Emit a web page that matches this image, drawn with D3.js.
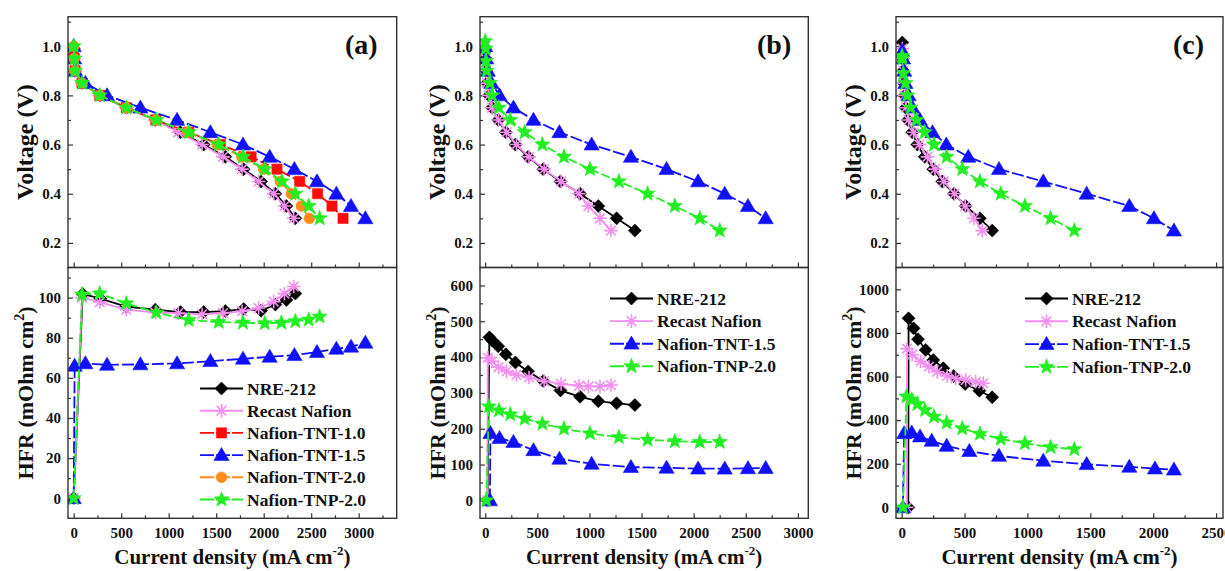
<!DOCTYPE html>
<html>
<head>
<meta charset="utf-8">
<script src="https://cdn.jsdelivr.net/npm/d3@7/dist/d3.min.js"></script>
<style>
  html, body { margin: 0; padding: 0; background: #fff; }
  svg { display: block; }
</style>
</head>
<body>
<svg id="chart" width="1225" height="571"></svg>
<script>
// ---------------- data ----------------
const seriesNames = ["NRE-212", "Recast Nafion", "Nafion-TNT-1.0", "Nafion-TNT-1.5", "Nafion-TNT-2.0", "Nafion-TNP-2.0"];
const panelLabels = ["(a)", "(b)", "(c)"];
const voltageTicks = [0.2, 0.4, 0.6, 0.8, 1.0];
const voltageMinor = [0.3, 0.5, 0.7, 0.9, 1.1];
const currentTicksAB = [0, 500, 1000, 1500, 2000, 2500, 3000];
const currentTicksC = [0, 500, 1000, 1500, 2000, 2500];
const hfrTicksA = [0, 20, 40, 60, 80, 100];
const hfrTicksB = [0, 100, 200, 300, 400, 500, 600];
const hfrTicksC = [0, 200, 400, 600, 800, 1000];

// Panel (a) polarization: [current density mA/cm2, voltage V]
const polA_NRE212 = [[0,0.99],[5,0.95],[15,0.9],[90,0.85],[274,0.8],[554,0.75],[860,0.7],[1123,0.65],[1368,0.6],[1596,0.55],[1789,0.5],[1972,0.45],[2123,0.4],[2239,0.35],[2333,0.3]];
const polA_Recast = [[0,0.99],[5,0.95],[15,0.9],[88,0.85],[274,0.8],[554,0.75],[855,0.7],[1100,0.65],[1351,0.6],[1572,0.55],[1772,0.5],[1947,0.45],[2105,0.4],[2218,0.35],[2316,0.3]];
const polA_TNT10 = [[0,0.975],[5,0.95],[15,0.9],[88,0.85],[274,0.8],[554,0.75],[865,0.7],[1211,0.65],[1544,0.6],[1867,0.55],[2140,0.5],[2379,0.45],[2568,0.4],[2719,0.35],[2835,0.3]];
const polA_TNT15 = [[0,1.0],[5,0.95],[18,0.9],[123,0.85],[351,0.8],[702,0.75],[1088,0.7],[1439,0.65],[1782,0.6],[2063,0.55],[2323,0.5],[2561,0.45],[2765,0.4],[2919,0.35],[3070,0.3]];
const polA_TNT20 = [[0,1.0],[5,0.95],[15,0.9],[88,0.85],[274,0.8],[554,0.75],[865,0.7],[1200,0.65],[1510,0.6],[1770,0.55],[2000,0.5],[2175,0.45],[2291,0.4],[2396,0.35],[2481,0.3]];
const polA_TNP20 = [[0,1.0],[7,0.95],[14,0.9],[88,0.85],[274,0.8],[554,0.75],[870,0.7],[1211,0.65],[1526,0.6],[1782,0.55],[2011,0.5],[2193,0.45],[2333,0.4],[2474,0.35],[2589,0.3]];

// Panel (a) high-frequency resistance: [current density, HFR mOhm cm2]
const hfrA_NRE212 = [[0,0],[95,101.8],[280,99.5],[554,95.5],[860,94],[1123,92.8],[1368,92.8],[1596,93.3],[1789,94.3],[1972,93.5],[2123,96.5],[2239,98.8],[2333,102]];
const hfrA_Recast = [[0,0],[88,100],[274,97.8],[554,94],[860,92.5],[1100,92.2],[1351,91.7],[1572,92.3],[1772,93.2],[1947,94.8],[2105,98],[2218,102],[2316,105.5]];
const hfrA_TNT15 = [[0,0],[10,66],[123,67.2],[351,66.5],[702,66.7],[1088,67.2],[1439,68.3],[1782,69.5],[2063,70.5],[2323,71.3],[2561,72.8],[2765,74.5],[2919,75.5],[3070,77.5]];
const hfrA_TNP20 = [[0,0],[88,101.5],[274,102],[554,97.1],[870,92.5],[1211,88.8],[1526,87.8],[1782,87.5],[2011,87.2],[2186,87.5],[2333,88.2],[2474,89],[2589,90.5]];

// Panel (b) polarization
const polB_NRE212 = [[0,0.98],[4,0.95],[10,0.9],[18,0.85],[35,0.8],[65,0.75],[125,0.7],[198,0.65],[290,0.6],[412,0.55],[557,0.5],[722,0.45],[910,0.4],[1085,0.35],[1261,0.3],[1436,0.25]];
const polB_Recast = [[0,1.0],[4,0.95],[10,0.9],[18,0.85],[35,0.8],[65,0.75],[128,0.7],[205,0.65],[300,0.6],[420,0.55],[565,0.5],[728,0.45],[900,0.4],[990,0.35],[1101,0.3],[1206,0.25]];
const polB_TNT15 = [[0,1.0],[10,0.95],[25,0.9],[60,0.85],[137,0.8],[271,0.75],[463,0.7],[712,0.65],[1021,0.6],[1398,0.55],[1740,0.5],[2043,0.45],[2298,0.4],[2521,0.35],[2691,0.3]];
const polB_TNP20 = [[0,1.02],[3,0.99],[8,0.94],[14,0.9],[45,0.85],[67,0.8],[131,0.75],[240,0.7],[378,0.65],[549,0.6],[756,0.55],[1005,0.5],[1283,0.45],[1558,0.4],[1819,0.35],[2059,0.3],[2250,0.25]];

// Panel (b) HFR
const hfrB_NRE212 = [[22,0],[40,455],[65,447],[125,430],[198,408],[290,385],[412,360],[557,333],[722,307],[910,289],[1085,277],[1261,271],[1436,266]];
const hfrB_Recast = [[20,0],[25,398],[65,388],[128,372],[205,360],[300,350],[420,343],[565,333],[728,325],[900,320],[990,318],[1101,318],[1206,322]];
const hfrB_TNT15 = [[45,0],[50,188],[137,174],[271,163],[463,140],[712,116],[1021,102],[1398,93],[1740,91],[2043,88.5],[2298,88.5],[2521,89.5],[2691,90]];
const hfrB_TNP20 = [[10,0],[35,262],[131,251],[240,240],[378,228],[549,214],[756,200],[1005,187],[1283,176],[1558,169],[1819,165],[2059,163],[2250,163]];

// Panel (c) polarization
const polC_NRE212 = [[5,1.015],[8,0.95],[12,0.9],[17,0.85],[24,0.8],[32,0.75],[50,0.7],[84,0.65],[124,0.6],[183,0.55],[251,0.5],[323,0.45],[416,0.4],[509,0.35],[622,0.3],[720,0.25]];
const polC_Recast = [[5,0.99],[8,0.95],[12,0.9],[17,0.85],[25,0.8],[35,0.75],[55,0.7],[95,0.65],[140,0.6],[205,0.55],[265,0.5],[335,0.45],[420,0.4],[505,0.35],[575,0.3],[641,0.25]];
const polC_TNT15 = [[5,0.98],[12,0.95],[20,0.9],[30,0.85],[55,0.8],[85,0.75],[145,0.7],[245,0.65],[355,0.6],[530,0.55],[774,0.5],[1126,0.45],[1471,0.4],[1810,0.35],[2006,0.3],[2165,0.25]];
const polC_TNP20 = [[3,0.96],[5,0.95],[13,0.89],[30,0.85],[45,0.8],[71,0.75],[119,0.7],[183,0.65],[257,0.6],[358,0.55],[482,0.5],[622,0.45],[788,0.4],[980,0.35],[1184,0.3],[1373,0.25]];

// Panel (c) HFR
const hfrC_NRE212 = [[53,0],[55,867],[95,821],[130,771],[191,722],[251,676],[331,638],[413,602],[505,566],[618,535],[720,505]];
const hfrC_Recast = [[40,0],[43,728],[84,700],[151,670],[217,645],[283,622],[362,603],[429,592],[509,584],[588,576],[649,569]];
const hfrC_TNT15 = [[10,0],[20,340],[80,343],[146,325],[239,305],[358,282],[538,258],[774,236],[1126,214],[1471,198],[1810,186],[2014,178],[2165,173]];
const hfrC_TNP20 = [[10,0],[38,508],[80,494],[125,474],[185,446],[257,416],[358,388],[482,362],[622,337],[788,314],[980,294],[1184,276],[1373,267]];

// ---------------- styles ----------------
const FONT = '"Liberation Serif","Times New Roman",serif';
const frameColor = "#333";
const styles = {
  "NRE-212":        { color: "#000000", marker: "diamond",  dash: null },
  "Recast Nafion":  { color: "#f48ef0", marker: "asterisk", dash: null },
  "Nafion-TNT-1.0": { color: "#ff0a0a", marker: "square",   dash: "9,3" },
  "Nafion-TNT-1.5": { color: "#1010ff", marker: "triangle", dash: "12,3" },
  "Nafion-TNT-2.0": { color: "#ff8c1a", marker: "circle",   dash: "9,3" },
  "Nafion-TNP-2.0": { color: "#22ee22", marker: "star",     dash: "9,3" }
};

function markerPath(type) {
  switch (type) {
    case "diamond": { const r = 6.5; return `M0,${-r}L${r},0L0,${r}L${-r},0Z`; }
    case "square": { const r = 5.1; return `M${-r},${-r}H${r}V${r}H${-r}Z`; }
    case "triangle": return "M0,-7.6L7.6,5.4L-7.6,5.4Z";
    case "circle": { const r = 5.4; return `M${r},0A${r},${r} 0 1,1 ${-r},0A${r},${r} 0 1,1 ${r},0Z`; }
    case "star": {
      const R = 8.0, r = 3.4; let p = "";
      for (let i = 0; i < 10; i++) {
        const rad = i % 2 === 0 ? R : r;
        const a = -Math.PI / 2 + i * Math.PI / 5;
        p += (i === 0 ? "M" : "L") + (rad * Math.cos(a)).toFixed(2) + "," + (rad * Math.sin(a)).toFixed(2);
      }
      return p + "Z";
    }
    case "asterisk": {
      const r = 6.8, a = r * 0.707;
      return `M${-r},0L${r},0M0,${-r}L0,${r}M${-a},${-a}L${a},${a}M${-a},${a}L${a},${-a}`;
    }
  }
}

function drawMarkers(g, pts, style) {
  const isStroke = style.marker === "asterisk";
  g.selectAll(null).data(pts).join("path")
    .attr("d", markerPath(style.marker))
    .attr("transform", d => `translate(${d[0]},${d[1]})`)
    .attr("fill", isStroke ? "none" : style.color)
    .attr("stroke", style.color)
    .attr("stroke-width", isStroke ? 1.6 : 0.6);
}

// ---------------- layout ----------------
const yTop = 16.7, yMid = 267.5, yBottom = 518.3;
const voltageDomain = [0.1, 1.12];

const panels = [
  {
    label: panelLabels[0], left: 68, right: 396.7, xDomain: [-60, 3400], xTicks: currentTicksAB,
    hfrDomain: [-10, 115], hfrTicks: hfrTicksA, hfrStep: 10,
    legend: { x: 200, y: 388.5, step: 22.2 },
    pol: [["NRE-212", polA_NRE212], ["Recast Nafion", polA_Recast], ["Nafion-TNT-1.0", polA_TNT10], ["Nafion-TNT-1.5", polA_TNT15], ["Nafion-TNT-2.0", polA_TNT20], ["Nafion-TNP-2.0", polA_TNP20]],
    hfr: [["NRE-212", hfrA_NRE212], ["Recast Nafion", hfrA_Recast], ["Nafion-TNT-1.5", hfrA_TNT15], ["Nafion-TNP-2.0", hfrA_TNP20]],
    legendNames: seriesNames
  },
  {
    label: panelLabels[1], left: 480, right: 808.3, xDomain: [-50, 3100], xTicks: currentTicksAB,
    hfrDomain: [-50, 650], hfrTicks: hfrTicksB, hfrStep: 50,
    legend: { x: 610, y: 298.5, step: 22.6 },
    pol: [["NRE-212", polB_NRE212], ["Recast Nafion", polB_Recast], ["Nafion-TNT-1.5", polB_TNT15], ["Nafion-TNP-2.0", polB_TNP20]],
    hfr: [["NRE-212", hfrB_NRE212], ["Recast Nafion", hfrB_Recast], ["Nafion-TNT-1.5", hfrB_TNT15], ["Nafion-TNP-2.0", hfrB_TNP20]],
    legendNames: [seriesNames[0], seriesNames[1], seriesNames[3], seriesNames[5]]
  },
  {
    label: panelLabels[2], left: 896, right: 1223, xDomain: [-45, 2555], xTicks: currentTicksC,
    hfrDomain: [-50, 1100], hfrTicks: hfrTicksC, hfrStep: 100,
    legend: { x: 1025, y: 298.5, step: 22.8 },
    pol: [["NRE-212", polC_NRE212], ["Recast Nafion", polC_Recast], ["Nafion-TNT-1.5", polC_TNT15], ["Nafion-TNP-2.0", polC_TNP20]],
    hfr: [["NRE-212", hfrC_NRE212], ["Recast Nafion", hfrC_Recast], ["Nafion-TNT-1.5", hfrC_TNT15], ["Nafion-TNP-2.0", hfrC_TNP20]],
    legendNames: [seriesNames[0], seriesNames[1], seriesNames[3], seriesNames[5]]
  }
];

const svg = d3.select("#chart");
svg.append("rect").attr("width", 1225).attr("height", 571).attr("fill", "#fff");

function styleAxis(a, fontSize) {
  a.select(".domain").remove();
  a.attr("font-family", FONT).attr("font-size", fontSize).attr("font-weight", "bold");
  a.selectAll(".tick line").attr("stroke", frameColor).attr("stroke-width", 1.2);
  a.selectAll(".tick text").attr("fill", "#111");
}

function minorValues(domain, step, majors) {
  const out = [];
  const lo = Math.ceil((domain[0] + step * 0.3) / step) * step;
  for (let v = lo; v < domain[1] - step * 0.3; v += step) {
    const vv = +v.toFixed(6);
    if (!majors.some(m => Math.abs(m - vv) < 1e-6)) out.push(vv);
  }
  return out;
}

panels.forEach(p => {
  const g = svg.append("g");
  const x = d3.scaleLinear().domain(p.xDomain).range([p.left, p.right]);
  const yV = d3.scaleLinear().domain(voltageDomain).range([yMid, yTop]);
  const yH = d3.scaleLinear().domain(p.hfrDomain).range([yBottom, yMid]);
  const xMinor = minorValues(p.xDomain, 250, p.xTicks);

  // ---- upper panel: polarization ----
  const upLeft = g.append("g").attr("transform", `translate(${p.left},0)`)
    .call(d3.axisLeft(yV).tickValues(voltageTicks).tickSize(-5).tickPadding(7).tickFormat(d3.format(".1f")));
  styleAxis(upLeft, 15);
  const upLeftMinor = g.append("g").attr("transform", `translate(${p.left},0)`)
    .call(d3.axisLeft(yV).tickValues(voltageMinor).tickSize(-3).tickFormat(""));
  styleAxis(upLeftMinor, 15);
  const upBottom = g.append("g").attr("transform", `translate(0,${yMid})`)
    .call(d3.axisBottom(x).tickValues(p.xTicks).tickSize(-5).tickFormat(""));
  styleAxis(upBottom, 15);
  const upBottomMinor = g.append("g").attr("transform", `translate(0,${yMid})`)
    .call(d3.axisBottom(x).tickValues(xMinor).tickSize(-3).tickFormat(""));
  styleAxis(upBottomMinor, 15);

  // ---- lower panel: HFR ----
  const loLeft = g.append("g").attr("transform", `translate(${p.left},0)`)
    .call(d3.axisLeft(yH).tickValues(p.hfrTicks).tickSize(-5).tickPadding(7).tickFormat(d3.format("d")));
  styleAxis(loLeft, 15);
  const loLeftMinor = g.append("g").attr("transform", `translate(${p.left},0)`)
    .call(d3.axisLeft(yH).tickValues(minorValues(p.hfrDomain, p.hfrStep, p.hfrTicks)).tickSize(-3).tickFormat(""));
  styleAxis(loLeftMinor, 15);
  const loBottom = g.append("g").attr("transform", `translate(0,${yBottom})`)
    .call(d3.axisBottom(x).tickValues(p.xTicks).tickSize(-5).tickPadding(9).tickFormat(d3.format("d")));
  styleAxis(loBottom, 15);
  const loBottomMinor = g.append("g").attr("transform", `translate(0,${yBottom})`)
    .call(d3.axisBottom(x).tickValues(xMinor).tickSize(-3).tickFormat(""));
  styleAxis(loBottomMinor, 15);

  // ---- curves ----
  const clipId = "clip-" + p.label.replace(/\W/g, "");
  svg.append("clipPath").attr("id", clipId).append("rect")
    .attr("x", p.left).attr("y", yTop).attr("width", p.right - p.left).attr("height", yBottom - yTop);
  const plot = g.append("g").attr("clip-path", `url(#${clipId})`);

  function drawSeries(list, yScale) {
    list.forEach(([name, data]) => {
      const st = styles[name];
      const pts = data.map(d => [x(d[0]), yScale(d[1])]);
      plot.append("path")
        .attr("d", d3.line()(pts))
        .attr("fill", "none")
        .attr("stroke", st.color)
        .attr("stroke-width", 1.8)
        .attr("stroke-dasharray", st.dash);
      drawMarkers(plot.append("g"), pts, st);
    });
  }
  drawSeries(p.pol, yV);
  drawSeries(p.hfr, yH);

  // ---- frames ----
  g.append("rect").attr("x", p.left).attr("y", yTop).attr("width", p.right - p.left).attr("height", yMid - yTop)
    .attr("fill", "none").attr("stroke", frameColor).attr("stroke-width", 1.4);
  g.append("rect").attr("x", p.left).attr("y", yMid).attr("width", p.right - p.left).attr("height", yBottom - yMid)
    .attr("fill", "none").attr("stroke", frameColor).attr("stroke-width", 1.4);

  // ---- panel label ----
  g.append("text").attr("x", p.left + 277).attr("y", 54)
    .attr("font-family", FONT).attr("font-weight", "bold").attr("font-size", 28).attr("fill", "#111")
    .text(p.label);

  // ---- axis titles ----
  const cx = p.left - 43;
  g.append("text")
    .attr("transform", `translate(${cx},${(yTop + yMid) / 2}) rotate(-90)`)
    .attr("text-anchor", "middle").attr("dy", "0.35em")
    .attr("font-family", FONT).attr("font-weight", "bold").attr("font-size", 24).attr("fill", "#111")
    .text("Voltage (V)");
  const hfrTitle = g.append("text")
    .attr("transform", `translate(${cx},${(yMid + yBottom) / 2}) rotate(-90)`)
    .attr("text-anchor", "middle").attr("dy", "0.35em")
    .attr("font-family", FONT).attr("font-weight", "bold").attr("font-size", 22).attr("fill", "#111");
  hfrTitle.append("tspan").text("HFR (mOhm cm");
  hfrTitle.append("tspan").attr("dy", -9).attr("font-size", 14).text("2");
  hfrTitle.append("tspan").attr("dy", 9).text(")");

  const xTitle = g.append("text")
    .attr("x", (p.left + p.right) / 2).attr("y", 564)
    .attr("text-anchor", "middle")
    .attr("font-family", FONT).attr("font-weight", "bold").attr("font-size", 21).attr("fill", "#111");
  xTitle.append("tspan").text("Current density (mA cm");
  xTitle.append("tspan").attr("dy", -9).attr("font-size", 13).text("-2");
  xTitle.append("tspan").attr("dy", 9).text(")");

  // ---- legend ----
  p.legendNames.forEach((name, i) => {
    const st = styles[name];
    const ly = p.legend.y + i * p.legend.step;
    const lg = g.append("g");
    lg.append("line").attr("x1", p.legend.x).attr("x2", p.legend.x + 43).attr("y1", ly).attr("y2", ly)
      .attr("stroke", st.color).attr("stroke-width", 1.9).attr("stroke-dasharray", st.dash ? "14,2" : null);
    drawMarkers(lg, [[p.legend.x + 21.5, ly]], st);
    lg.append("text").attr("x", p.legend.x + 47).attr("y", ly).attr("dy", "0.35em")
      .attr("font-family", FONT).attr("font-weight", "bold").attr("font-size", 17.5).attr("fill", "#111")
      .text(name);
  });
});
</script>
</body>
</html>
